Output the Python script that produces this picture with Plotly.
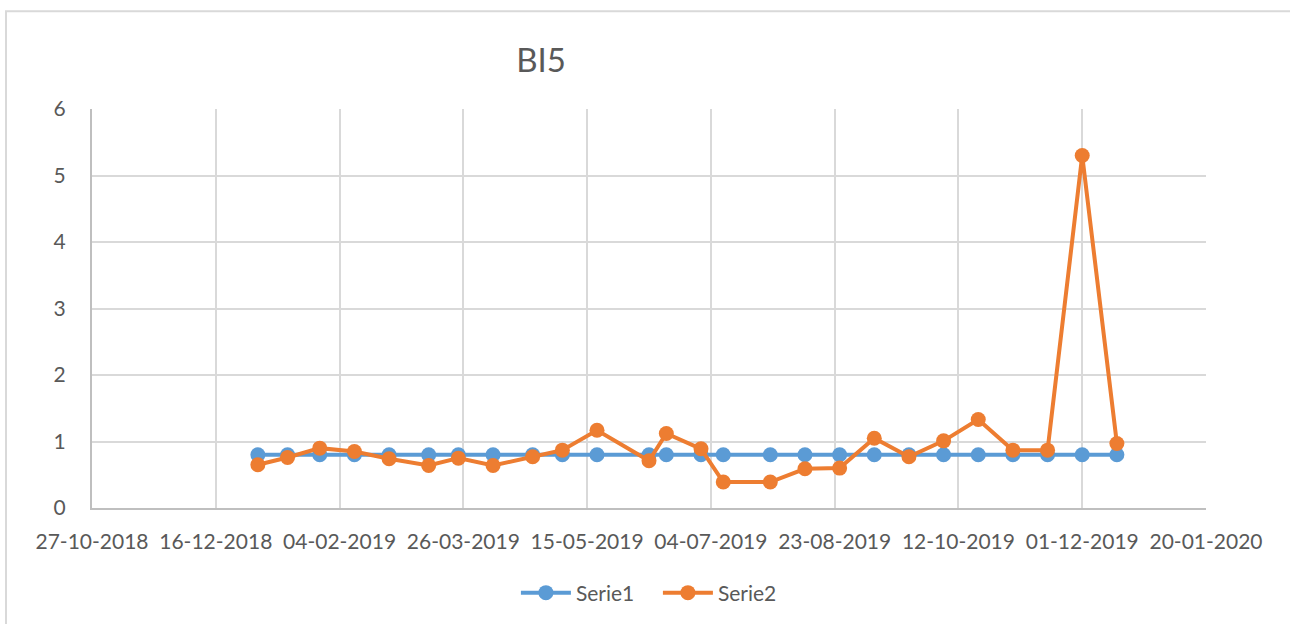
import plotly.graph_objects as go

dates = ["2019-01-02", "2019-01-14", "2019-01-27", "2019-02-10", "2019-02-24",
         "2019-03-12", "2019-03-24", "2019-04-07", "2019-04-23", "2019-05-05",
         "2019-05-19", "2019-06-09", "2019-06-16", "2019-06-30", "2019-07-09",
         "2019-07-28", "2019-08-11", "2019-08-25", "2019-09-08", "2019-09-22",
         "2019-10-06", "2019-10-20", "2019-11-03", "2019-11-17", "2019-12-01",
         "2019-12-15"]
serie1 = [0.8] * 26
serie2 = [0.65, 0.76, 0.90, 0.85, 0.74, 0.64, 0.75, 0.64, 0.77, 0.87,
          1.17, 0.71, 1.12, 0.89, 0.39, 0.39, 0.59, 0.60, 1.05, 0.77,
          1.01, 1.33, 0.87, 0.87, 5.30, 0.97]

BLUE = "#5B9BD5"
ORANGE = "#ED7D31"
FONT = "Lato"
TXT = "#595959"

fig = go.Figure()
fig.add_trace(go.Scatter(x=dates, y=serie1, name="Serie1", mode="lines+markers",
                         line=dict(color=BLUE, width=4),
                         marker=dict(color=BLUE, size=15)))
fig.add_trace(go.Scatter(x=dates, y=serie2, name="Serie2", mode="lines+markers",
                         line=dict(color=ORANGE, width=4),
                         marker=dict(color=ORANGE, size=15)))

fig.update_layout(
    width=1290, height=624,
    margin=dict(l=92, r=84, t=109, b=115),
    paper_bgcolor="white", plot_bgcolor="white",
    font=dict(family=FONT, size=21, color=TXT),
    title=dict(text="BI5", x=541/1290, xanchor="center", y=1-60/624, yanchor="middle",
               font=dict(family=FONT, size=33, color=TXT)),
    showlegend=True,
    legend=dict(orientation="h", x=0.508, xanchor="center", y=-0.21, yanchor="middle",
                font=dict(family=FONT, size=21, color=TXT), itemwidth=50,
                entrywidth=77, entrywidthmode="pixels"),
    xaxis=dict(type="date", range=["2018-10-27", "2020-01-20"],
               tick0="2018-10-27", dtick=50*86400000, tickformat="%d-%m-%Y",
               showgrid=True, gridcolor="#d9d9d9", gridwidth=2,
               showline=True, linecolor="#bfbfbf", linewidth=2,
               ticks="", ticklabelstandoff=14, zeroline=False),
    yaxis=dict(range=[0, 6], dtick=1, tick0=0,
               showgrid=True, gridcolor="#d9d9d9", gridwidth=2,
               showline=True, linecolor="#bfbfbf", linewidth=2,
               ticks="", ticklabelstandoff=20, zeroline=False),
    shapes=[dict(type="rect", xref="paper", yref="paper",
                 x0=(6-92)/1114, x1=1.3, y0=-0.4, y1=(509-11)/400,
                 line=dict(color="#d9d9d9", width=2), layer="below")],
)

fig.write_html("out.html", config={"displayModeBar": False},
               post_script="document.body.style.margin='0px';document.body.style.overflow='hidden';")
